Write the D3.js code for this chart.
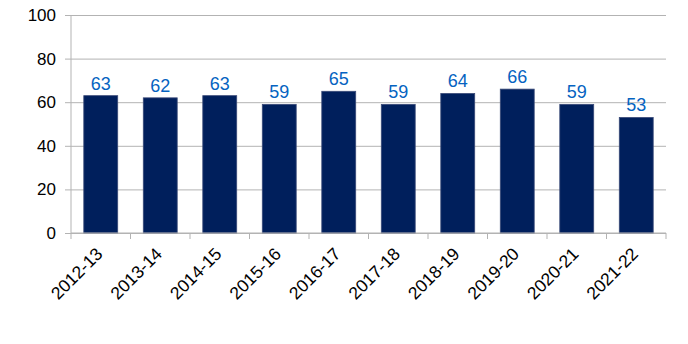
<!DOCTYPE html>
<html>
<head>
<meta charset="utf-8">
<script src="https://cdn.jsdelivr.net/npm/d3@7"></script>
<style>
  body { margin: 0; background: #fff; }
</style>
</head>
<body>
<div id="chart"></div>
<script>
// values
const years = ["2012-13", "2013-14", "2014-15", "2015-16", "2016-17",
               "2017-18", "2018-19", "2019-20", "2020-21", "2021-22"];
const values = [63, 62, 63, 59, 65, 59, 64, 66, 59, 53];
const yTicks = [0, 20, 40, 60, 80, 100];

const width = 688, height = 344;
const plotLeft = 71, plotRight = 666, plotTop = 15, plotBottom = 233;
const fontFam = "'Liberation Sans', Arial, sans-serif";

const svg = d3.select("#chart").append("svg")
    .attr("width", width)
    .attr("height", height)
    .attr("font-family", fontFam);

let x = d3.scaleBand()
    .domain(years)
    .range([plotLeft, plotRight])
    .paddingInner(0.43)
    .paddingOuter(0.215);

let y = d3.scaleLinear()
    .domain([0, 100])
    .range([plotBottom, plotTop]);

// gridlines + y labels
let yAxis = d3.axisLeft(y).tickValues(yTicks).tickSize(6).tickPadding(9);
let gy = svg.append("g")
    .attr("transform", "translate(" + plotLeft + ",0)")
    .call(yAxis)
    .attr("font-family", fontFam)
    .attr("font-size", 17);
gy.select(".domain").remove();
gy.selectAll(".tick line")
    .attr("x1", -6)
    .attr("x2", plotRight - plotLeft)
    .attr("stroke", "#b3b3b3");
gy.selectAll(".tick text")
    .attr("fill", "#000");

// bars
svg.selectAll(".bar")
    .data(values)
    .enter()
    .append("rect")
    .attr("class", "bar")
    .attr("x", (d, i) => x(years[i]))
    .attr("y", d => y(d))
    .attr("width", x.bandwidth())
    .attr("height", d => y(0) - y(d))
    .attr("fill", "#001f5c")
    .attr("stroke", "#3a4a78")
    .attr("stroke-width", 0.8);

// value labels
svg.selectAll(".lbl")
    .data(values)
    .enter()
    .append("text")
    .attr("class", "lbl")
    .attr("x", (d, i) => x(years[i]) + x.bandwidth() / 2)
    .attr("y", d => y(d) - 6)
    .attr("text-anchor", "middle")
    .attr("fill", "#0563c1")
    .attr("font-size", 18)
    .text(d => d);

// x axis
const step = (plotRight - plotLeft) / years.length;
let gx = svg.append("g").attr("transform", "translate(0," + plotBottom + ")");
gx.append("line")
    .attr("x1", plotLeft).attr("x2", plotRight)
    .attr("stroke", "#b3b3b3");
d3.range(years.length + 1).forEach(i => {
    gx.append("line")
        .attr("x1", plotLeft + i * step).attr("x2", plotLeft + i * step)
        .attr("y1", 0).attr("y2", 6)
        .attr("stroke", "#b3b3b3");
});
svg.append("line")
    .attr("x1", plotLeft).attr("x2", plotLeft)
    .attr("y1", plotTop).attr("y2", plotBottom)
    .attr("stroke", "#b3b3b3");

gx.selectAll(".xl")
    .data(years)
    .enter()
    .append("text")
    .attr("class", "xl")
    .attr("text-anchor", "end")
    .attr("transform", d => "translate(" + (x(d) + x.bandwidth() / 2 + 3) + ",22) rotate(-45)")
    .attr("font-size", 17.5)
    .attr("fill", "#000")
    .text(d => d);
</script>
</body>
</html>
